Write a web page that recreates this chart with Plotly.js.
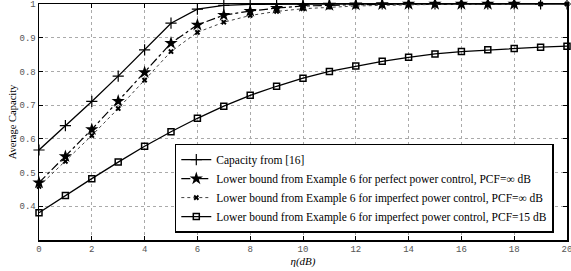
<!DOCTYPE html>
<html><head><meta charset="utf-8">
<script src="https://cdn.plot.ly/plotly-3.0.1.min.js"></script>
<style>body{margin:0;background:#fff}#chart{width:571px;height:271px}</style>
</head><body><div id="chart"></div>
<script>
const eta = [0,1,2,3,4,5,6,7,8,9,10,11,12,13,14,15,16,17,18,19,20];
const etaStar = [0,1,2,3,4,5,6,7,8,9,10,11,12,13,14,15,16,17,18];
const capacity = [0.567,0.639,0.711,0.786,0.864,0.943,0.985,0.996,0.999,1,1,1,1,1,1,1,1,1,1,1,1];
const perfectPCF = [0.470,0.548,0.628,0.712,0.797,0.884,0.938,0.967,0.979,0.988,0.994,0.997,0.998,0.999,1,1,1,1,1];
const imperfectInf = [0.459,0.533,0.610,0.690,0.774,0.859,0.916,0.946,0.966,0.978,0.986,0.991,0.994,0.996,0.998,0.999,1,1,1,1,1];
const imperfect15 = [0.381,0.432,0.482,0.531,0.578,0.621,0.661,0.697,0.729,0.756,0.780,0.800,0.816,0.830,0.842,0.852,0.859,0.864,0.868,0.872,0.875];
const names = [
  'Capacity from [16]',
  'Lower bound from Example 6 for perfect power control, PCF=\u221e dB',
  'Lower bound from Example 6 for imperfect power control, PCF=\u221e dB',
  'Lower bound from Example 6 for imperfect power control, PCF=15 dB'
];
const xTicks = [0,2,4,6,8,10,12,14,16,18,20];
const yTicks = [0.4,0.5,0.6,0.7,0.8,0.9,1];
const yTickText = ['0.4','0.5','0.6','0.7','0.8','0.9','1'];

const SERIF = 'Liberation Serif';
const MONO = 'Liberation Mono';

const traces = [
  {x: eta, y: capacity, name: names[0], mode: 'lines+markers', cliponaxis: false,
   line: {color: '#000', width: 1.3},
   marker: {symbol: 'cross-thin', size: 8, color: '#000', line: {color: '#000', width: 1.2}}},
  {x: etaStar, y: perfectPCF, name: names[1], mode: 'lines+markers', cliponaxis: false,
   line: {color: '#000', width: 1.2, dash: 'dashdot'},
   marker: {symbol: 'star', size: 10, color: '#000'}},
  {x: eta, y: imperfectInf, name: names[2], mode: 'lines+markers', cliponaxis: false,
   line: {color: '#444', width: 1, dash: 'dot'},
   marker: {symbol: 'x', size: 5, color: '#000'}},
  {x: eta, y: imperfect15, name: names[3], mode: 'lines+markers', cliponaxis: false,
   line: {color: '#000', width: 1.3},
   marker: {symbol: 'square-open', size: 6, color: '#000', line: {color: '#000', width: 1.5}}}
];

const axisCommon = {
  showline: true, linecolor: '#000', linewidth: 1.5, mirror: 'ticks',
  ticks: 'inside', ticklen: 4, tickcolor: '#000', tickwidth: 1,
  showgrid: true, gridcolor: '#aaa', griddash: 'dot', gridwidth: 1,
  zeroline: false, ticklabeloverflow: 'allow',
  tickfont: {family: MONO, size: 9, color: '#555'}
};

const layout = {
  width: 571, height: 271,
  margin: {l: 39, r: 4, t: 4, b: 31},
  font: {family: SERIF, size: 10, color: '#000'},
  paper_bgcolor: '#fff', plot_bgcolor: '#fff',
  showlegend: true,
  xaxis: Object.assign({}, axisCommon, {
    range: [0, 20], tickvals: xTicks, ticktext: xTicks.map(String),
    title: {text: '<i>\u03b7(dB)</i>', standoff: 2,
            font: {family: SERIF, size: 11, color: '#000'}}
  }),
  yaxis: Object.assign({}, axisCommon, {
    range: [0.3, 1], tickvals: yTicks, ticktext: yTickText,
    title: {text: 'Average Capacity', standoff: 1,
            font: {family: SERIF, size: 10.5, color: '#000'}}
  }),
  legend: {
    x: 0.975, y: 0.22, xanchor: 'right', yanchor: 'middle',
    bgcolor: '#fff', bordercolor: '#000', borderwidth: 1.5,
    font: {family: SERIF, size: 11.5, color: '#000'},
    tracegroupgap: 0, itemwidth: 30
  }
};

Plotly.newPlot('chart', traces, layout, {displayModeBar: false, staticPlot: true});
</script></body></html>
